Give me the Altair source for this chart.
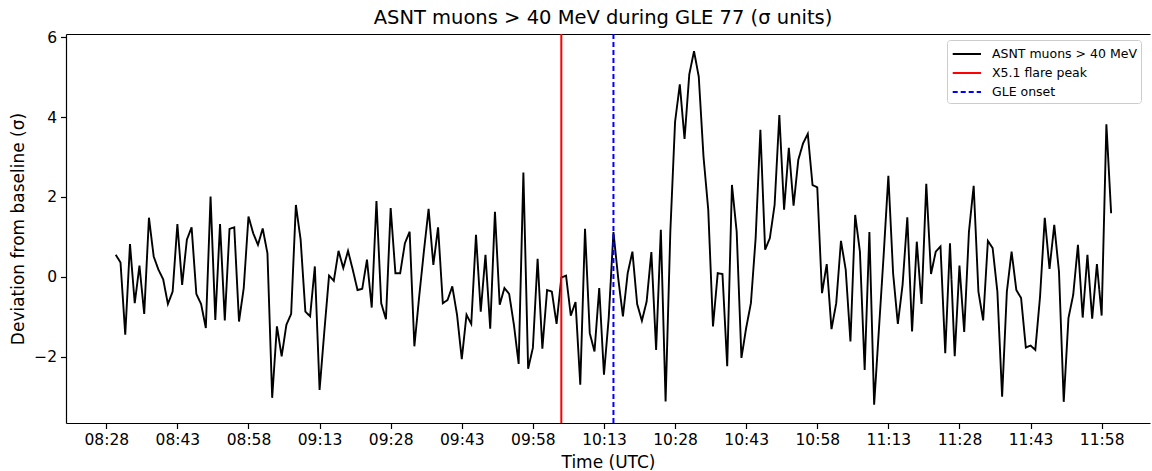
import altair as alt
import pandas as pd

FONT = "DejaVu Sans"

# ---- data ----
start_minute = 8 * 60 + 30          # first sample at 08:30 UTC, one sample per minute
muon_sigma = [
    0.55, 0.36, -1.45, 0.82, -0.66, 0.28, -0.93, 1.48, 0.51, 0.18,
    -0.06, -0.68, -0.37, 1.32, -0.20, 0.93, 1.24, -0.43, -0.68, -1.28,
    2.01, -1.08, 1.32, -1.09, 1.20, 1.24, -1.12, -0.28, 1.51, 1.09,
    0.80, 1.21, 0.59, -3.03, -1.24, -1.99, -1.20, -0.93, 1.80, 0.93,
    -0.87, -0.99, 0.26, -2.83, -1.37, 0.03, -0.10, 0.65, 0.22, 0.65,
    0.18, -0.33, -0.30, 0.43, -0.77, 1.90, -0.66, -1.06, 1.72, 0.09,
    0.09, 0.84, 1.13, -1.74, -0.51, 0.63, 1.70, 0.30, 1.24, -0.66,
    -0.58, -0.24, -0.95, -2.06, -0.95, -1.18, 1.05, -0.87, 0.55, -1.30,
    1.63, -0.70, -0.28, -0.43, -1.20, -2.18, 2.61, -2.30, -1.78, 0.45,
    -1.80, -0.33, -0.37, -1.18, -0.02, 0.03, -0.97, -0.63, -2.70, 1.20,
    -1.41, -1.87, -0.28, -2.45, -1.03, 1.12, -0.03, -0.99, 0.09, 0.63,
    -0.68, -1.10, -0.62, 0.62, -1.83, 1.18, -3.12, 1.13, 3.88, 4.82,
    3.45, 5.07, 5.65, 5.01, 3.01, 1.68, -1.24, 0.09, 0.07, -2.24,
    2.30, 1.13, -2.03, -1.28, -0.66, 0.97, 3.68, 0.68, 0.97, 1.80,
    4.05, 1.68, 3.23, 1.78, 2.93, 3.34, 3.58, 2.30, 2.24, -0.41,
    0.32, -1.31, -0.66, 0.90, 0.18, -1.62, 1.55, 0.63, -2.33, 1.12,
    -3.20, -1.33, 0.53, 2.53, 0.09, -1.18, -0.20, 1.49, -1.37, 0.88,
    -0.68, 2.33, 0.07, 0.63, 0.76, -1.91, 0.84, -1.99, 0.28, -1.38,
    1.13, 2.28, -0.37, -1.09, 0.90, 0.72, -0.37, -3.00, -0.37, 0.63,
    -0.33, -0.53, -1.77, -1.72, -1.83, -0.50, 1.48, 0.20, 1.30, 0.13,
    -3.13, -1.03, -0.45, 0.80, -1.02, 0.55, -1.05, 0.32, -0.97, 3.82,
    1.59,
]
event_minutes = [10 * 60 + 4, 10 * 60 + 15]   # X5.1 flare peak, GLE onset
series_names = ["ASNT muons > 40 MeV", "X5.1 flare peak", "GLE onset"]
series_colors = ["black", "red", "blue"]
series_dashes = [[1, 0], [1, 0], [5, 3]]
x_tick_minutes = list(range(8 * 60 + 28, 12 * 60 + 1, 15))
y_tick_values = [-2, 0, 2, 4, 6]

muon_df = pd.DataFrame({
    "t": [start_minute + i for i in range(len(muon_sigma))],
    "v": muon_sigma,
    "series": series_names[0],
})
event_df = pd.DataFrame({"t": event_minutes, "series": series_names[1:]})

x_scale = alt.Scale(domain=[499.5, 728.2], nice=False, zero=False)
y_scale = alt.Scale(domain=[-3.66, 6.08], nice=False, zero=False)

legend = alt.Legend(
    title=None, orient="none", legendX=881, legendY=6,
    symbolType="M-0.92,0H2.22", symbolSize=324, symbolStrokeWidth=2,
    labelFont=FONT, labelFontSize=12.5, labelColor="black", labelOffset=21,
    rowPadding=2, padding=4, fillColor="white", strokeColor="#cccccc",
    cornerRadius=3,
)
color = alt.Color("series:N", scale=alt.Scale(domain=series_names, range=series_colors), legend=legend)
dash = alt.StrokeDash("series:N", scale=alt.Scale(domain=series_names, range=series_dashes), legend=legend)

time_label = ("(floor(datum.value/60) < 10 ? '0' : '') + floor(datum.value/60) + ':' + "
              "(datum.value % 60 < 10 ? '0' : '') + (datum.value % 60)")

axis_style = dict(
    domainColor="black", domainWidth=1.2, tickColor="black", tickWidth=1.2,
    labelFont=FONT, labelFontSize=15.5, labelColor="black",
    titleFont=FONT, titleFontSize=17, titleFontWeight="normal", titleColor="black",
    grid=False,
)

line = alt.Chart(muon_df).mark_line(strokeWidth=1.9, interpolate="linear").encode(
    x=alt.X("t:Q", scale=x_scale, axis=alt.Axis(
        values=x_tick_minutes, labelExpr=time_label, title="Time (UTC)",
        tickSize=5.5, labelPadding=4, titlePadding=6, **axis_style)),
    y=alt.Y("v:Q", scale=y_scale, axis=alt.Axis(
        values=y_tick_values, title="Deviation from baseline (σ)",
        labelExpr="datum.value < 0 ? '\u2212' + abs(datum.value) : '' + datum.value",
        tickSize=5.5, labelPadding=4, titlePadding=6, **axis_style)),
    color=color,
    strokeDash=dash,
)

rules = alt.Chart(event_df).mark_rule(strokeWidth=2).encode(
    x=alt.X("t:Q", scale=x_scale, axis=alt.Axis(
        orient="top", labels=False, ticks=False, title=None, **axis_style)),
    color=color,
    strokeDash=dash,
)

chart = alt.layer(line, rules).resolve_axis(x="independent").properties(
    width=1084, height=389,
    title=alt.TitleParams("ASNT muons > 40 MeV during GLE 77 (σ units)",
                          font=FONT, fontSize=19.5, fontWeight="normal",
                          color="black", anchor="middle", offset=2, dx=-5),
    autosize=alt.AutoSizeParams(type="none"),
    padding={"left": 66, "top": 34, "right": 2, "bottom": 48},
).configure_view(strokeWidth=0)

chart.save("out.html", embed_options={"renderer": "svg", "actions": False})
